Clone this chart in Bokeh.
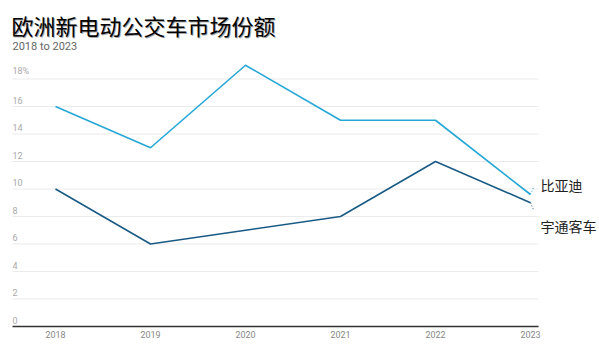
from bokeh.plotting import figure
from bokeh.models import ColumnDataSource, Range1d
from bokeh.core.properties import value
from bokeh.embed import file_html
from bokeh.resources import INLINE

years = [2018, 2019, 2020, 2021, 2022, 2023]
year_labels = ["2018", "2019", "2020", "2021", "2022", "2023"]
byd = [16, 13, 19, 15, 15, 9.6]
yutong = [10, 6, 7, 8, 12, 9]
series_names = ["比亚迪", "宇通客车"]
y_ticks = [0, 2, 4, 6, 8, 10, 12, 14, 16, 18]
y_tick_labels = ["0", "2", "4", "6", "8", "10", "12", "14", "16", "18%"]
title_text = "欧洲新电动公交车市场份额"
subtitle_text = "2018 to 2023"

C_BYD = "#27a7d6"
C_YT = "#1a5b85"

W, H = 599, 351
PX_X = 95.0      # pixels per year
PX_Y = 13.75     # pixels per percentage point
X_START = 2018 - 55 / PX_X
Y_START = -(H - 326) / PX_Y


def sx(px):
    return X_START + px / PX_X


def sy(py_from_top):
    return Y_START + (H - py_from_top) / PX_Y


p = figure(width=W, height=H, output_backend="svg", toolbar_location=None,
           x_range=Range1d(X_START, X_START + W / PX_X),
           y_range=Range1d(Y_START, Y_START + H / PX_Y),
           min_border=0)
p.outline_line_color = None
p.axis.visible = False
p.grid.visible = False
p.background_fill_color = "white"
p.border_fill_color = "white"

GX0, GX1 = sx(12), sx(538)

# gridlines
p.segment(x0=[GX0] * len(y_ticks), y0=y_ticks, x1=[GX1] * len(y_ticks), y1=y_ticks,
          line_color="#ebebeb", line_width=1)
# baseline axis
p.segment(x0=[GX0], y0=[0], x1=[GX1], y1=[0], line_color="#333333", line_width=1.3)

# y tick labels (above gridlines)
p.text(x=[GX0] * len(y_ticks), y=[t + 3 / PX_Y for t in y_ticks], text=y_tick_labels,
       text_font=value("Roboto"), text_font_size="9px", text_color="#aaaaaa",
       text_baseline="bottom", text_align="left")

# x tick labels
p.text(x=years, y=[-4 / PX_Y] * len(years), text=year_labels,
       text_font=value("Roboto"), text_font_size="9px", text_color="#888888",
       text_baseline="top", text_align="center")

src = ColumnDataSource(dict(x=years, byd=byd, yt=yutong))
p.line("x", "byd", source=src, line_color=C_BYD, line_width=1.6)
p.line("x", "yt", source=src, line_color=C_YT, line_width=1.6)

# leader dotted lines
dx = 3 / PX_X
p.segment(x0=[years[-1]], y0=[byd[-1]], x1=[years[-1] + dx], y1=[byd[-1] + 7 / PX_Y],
          line_color=C_BYD, line_dash="1 2", line_width=1)
p.segment(x0=[years[-1]], y0=[yutong[-1]], x1=[years[-1] + dx], y1=[yutong[-1] - 7 / PX_Y],
          line_color=C_YT, line_dash="1 2", line_width=1)

# end labels
p.text(x=[years[-1] + 10 / PX_X] * 2,
       y=[byd[-1] + 10 / PX_Y, yutong[-1] - 23 / PX_Y],
       text=series_names,
       text_font=value("Noto Sans CJK SC"), text_font_size="14px", text_color="#222222",
       text_baseline="middle", text_align="left")

# title (with soft shadow) & subtitle
p.text(x=[sx(12)], y=[sy(25)], text=[title_text],
       text_font=value("Noto Sans CJK SC"), text_font_size="22px", text_color="#000000",
       text_alpha=0.35, text_baseline="middle", text_align="left")
p.text(x=[sx(11)], y=[sy(24)], text=[title_text],
       text_font=value("Noto Sans CJK SC"), text_font_size="22px", text_color="#000000",
       text_baseline="middle", text_align="left")
p.text(x=[sx(12)], y=[sy(46)], text=[subtitle_text],
       text_font=value("Roboto"), text_font_size="11px", text_color="#666666",
       text_baseline="middle", text_align="left")

open("out.html", "w").write(file_html(p, INLINE))
